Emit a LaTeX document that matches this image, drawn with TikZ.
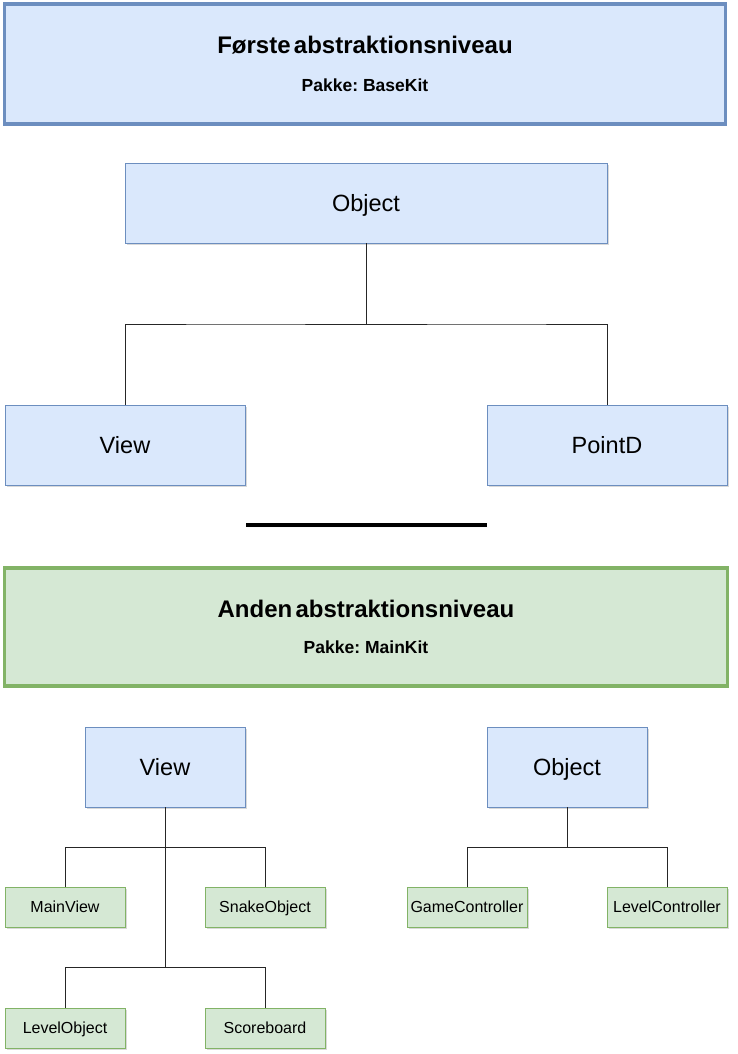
\documentclass[tikz,border=0pt]{standalone}
\usepackage{fontspec}
\setmainfont{Liberation Sans}
\usepackage{tikz}
\usetikzlibrary{calc,shadows}

\definecolor{bluefill}{HTML}{DAE8FC}
\definecolor{blueline}{HTML}{6C8EBF}
\definecolor{greenfill}{HTML}{D5E8D4}
\definecolor{greenline}{HTML}{82B366}

\tikzset{
  shade/.style={drop shadow={shadow xshift=1.5pt, shadow yshift=-2pt, opacity=0.25, fill=black!60}},
  level/.style={draw, line width=3.5pt, inner sep=0pt, align=center, shade, text width=#1},
  bigclass/.style={draw=blueline, fill=bluefill, line width=0.8pt, inner sep=0pt,
    minimum height=80pt, font=\fontsize{23.5}{28}\selectfont, shade,
    text height=16.5pt, text depth=0pt},
  smallclass/.style={draw=greenline, fill=greenfill, line width=0.8pt, inner sep=0pt,
    minimum width=120pt, minimum height=40pt, font=\fontsize{16}{19}\selectfont, shade,
    text height=11.5pt, text depth=0pt},
  link/.style={draw=black!85, line width=0.8pt}
}

\begin{document}
\begin{tikzpicture}[x=1pt, y=-1pt]
  \useasboundingbox (0,0) rectangle (737,1054);

  % first level
  \node[level=721pt, fill=bluefill, draw=blueline, minimum height=120pt] (lvl1) at (365,64)
    {{\fontsize{24}{28}\selectfont\bfseries Første abstraktionsniveau}\\[24pt]
     {\fontsize{17.5}{20}\selectfont\bfseries Pakke: BaseKit}};

  \node[bigclass, minimum width=482pt] (obj1) at (366,203) {Object};
  \node[bigclass, minimum width=240pt] (view1) at (125,445) {View};
  \node[bigclass, minimum width=240pt] (point) at (607,445) {PointD};

  \path[link]
    (obj1.south) |- ($(obj1.south)!0.5!(view1.north)$) -| (view1.north)
    (obj1.south) |- ($(obj1.south)!0.5!(point.north)$) -| (point.north);

  % separator
  \coordinate (sepa) at (246,525);
  \coordinate (sepb) at (487,525);
  \draw[line width=4pt, shade] (sepa) -- (sepb);

  % second level
  \node[level=723pt, fill=greenfill, draw=greenline, minimum height=118pt] (lvl2) at (366,627)
    {{\fontsize{24}{28}\selectfont\bfseries Anden abstraktionsniveau}\\[22pt]
     {\fontsize{17.5}{20}\selectfont\bfseries Pakke: MainKit}};

  \node[bigclass, minimum width=160pt] (view2) at (165,767) {View};
  \node[bigclass, minimum width=160pt] (obj2) at (567,767) {Object};

  \node[smallclass] (mainview) at (65,907) {MainView};
  \node[smallclass] (snake) at (265,907) {SnakeObject};
  \node[smallclass] (levelobj) at (65,1028) {LevelObject};
  \node[smallclass] (score) at (265,1028) {Scoreboard};
  \node[smallclass] (game) at (467,907) {GameController};
  \node[smallclass] (levelctl) at (667,907) {LevelController};

  \coordinate (knee) at ($(mainview.south)!0.5!(levelobj.north)$);
  \path[link]
    (view2.south) |- ($(view2.south)!0.5!(mainview.north)$) -| (mainview.north)
    (view2.south) |- ($(view2.south)!0.5!(snake.north)$) -| (snake.north)
    (view2.south) |- (knee) -| (levelobj.north)
    (view2.south) |- (knee) -| (score.north)
    (obj2.south) |- ($(obj2.south)!0.5!(game.north)$) -| (game.north)
    (obj2.south) |- ($(obj2.south)!0.5!(levelctl.north)$) -| (levelctl.north);
\end{tikzpicture}
\end{document}
